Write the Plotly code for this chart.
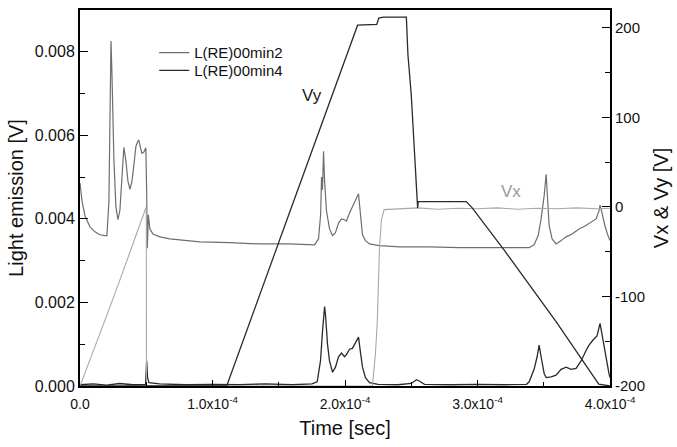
import plotly.graph_objects as go

# ---------------- data (time in microseconds) ----------------
T_L2_US = [0, 1.5, 3.8, 7.5, 11.3, 15.1, 18.8, 20.3, 21.8, 22.6, 23.4, 24.1, 25.6, 27.1, 28.6,
           30.1, 31.6, 33.1, 34.6, 36.2, 37.7, 39.2, 40.7, 42.2, 43.7, 44.4, 45.9, 46.7, 48.2,
           49.7, 50.3, 50.8, 51.6, 52.7, 55, 60.3, 67.8, 79.1, 90.4, 113, 135.6, 158.2, 177,
           180, 181.6, 182.3, 183, 183.8, 184.6, 186, 188.3, 190.6, 192.8, 195.1, 197.4, 199.6,
           201.1, 203.4, 205.6, 207.9, 209.4, 210.2, 211.7, 213.2, 215.4, 218.5, 226, 241,
           263.7, 286.3, 316.4, 339, 342.7, 345.8, 348, 350.3, 351.8, 352.6, 354.1, 356.3,
           359.3, 363.1, 366.9, 371.4, 376.6, 381.2, 385.7, 389.5, 391.7, 392.5, 394, 396.2,
           398.5, 400]
L_MIN2 = [0.00486, 0.00443, 0.00407, 0.00381, 0.00369, 0.00362, 0.00360, 0.00360, 0.0044,
          0.0073, 0.00826, 0.0075, 0.0054, 0.0043, 0.00398, 0.0042, 0.0051, 0.00571, 0.0054,
          0.0049, 0.00471, 0.0049, 0.0053, 0.00574, 0.00586, 0.00588, 0.00567, 0.00557,
          0.0056, 0.0057, 0.00467, 0.0033, 0.0041, 0.00376, 0.00364, 0.00357, 0.00352,
          0.00348, 0.00345, 0.00343, 0.0034, 0.0034, 0.00338, 0.00352, 0.0041, 0.0050,
          0.0047, 0.00562, 0.0049, 0.0042, 0.00376, 0.0036, 0.00367, 0.0039, 0.0040,
          0.00398, 0.00395, 0.00414, 0.00429, 0.00443, 0.00455, 0.0046, 0.0041, 0.00362,
          0.00348, 0.0034, 0.00336, 0.00333, 0.00333, 0.00331, 0.00331, 0.00331, 0.00338,
          0.0036, 0.0040, 0.00455, 0.00507, 0.00467, 0.00383, 0.00352, 0.0034, 0.00348,
          0.00357, 0.00364, 0.00376, 0.00383, 0.00393, 0.0040, 0.00419, 0.00433, 0.00414,
          0.00383, 0.0036, 0.00348]

T_L4_US = [0, 10, 20, 30, 40, 49.5, 50.3, 51, 52, 60, 80, 100, 120, 140, 160, 175, 179,
           181.5, 183, 184.6, 185.3, 186.8, 188.3, 190.6, 192.8, 195.1, 197.4, 199.6, 201.1,
           203.4, 205.6, 207.9, 210.2, 211.7, 213.2, 215.4, 218.5, 225, 240, 250, 252, 254,
           256, 260, 280, 300, 320, 337, 339, 342.7, 345, 346.5, 348, 350.3, 351.8, 355.6,
           359.3, 363.1, 366.9, 370.6, 374.4, 378.2, 381.9, 384.2, 387.2, 390.2, 392.5, 394.7,
           397, 399.2, 400]
L_MIN4 = [0.00003, 0.00005, 0.00002, 0.00006, 0.00003, 0.00004, 0.0006, 0.0002, 0.00008,
          0.00005, 0.00003, 0.00004, 0.00003, 0.00005, 0.00003, 0.00005, 0.0001, 0.0006,
          0.0013, 0.0019, 0.0017, 0.0010, 0.0006, 0.00033, 0.00045, 0.0007, 0.00079, 0.0007,
          0.00075, 0.00088, 0.0009, 0.00105, 0.00117, 0.0008, 0.00045, 0.0002, 0.00008,
          0.00004, 0.00003, 0.00006, 0.0001, 0.00015, 0.00012, 0.00004, 0.00003, 0.00004,
          0.00003, 0.00004, 0.0001, 0.0004, 0.0007, 0.00098, 0.0007, 0.0003, 0.0002, 0.00022,
          0.00026, 0.0004, 0.00045, 0.0004, 0.00042, 0.0006, 0.00085, 0.00098, 0.0011,
          0.0012, 0.0015, 0.0011, 0.0006, 0.0003, 0.0002]

T_VX_US = [0, 10, 20, 30, 40, 50, 50.2, 100, 220.7, 222.9, 224.4, 225.9, 227.4, 229.5, 240,
           255, 270, 285, 300, 315, 330, 345, 360, 375, 390, 400]
VX = [-200, -162, -122, -82, -41, 0, -200, -200, -200, -165, -128, -50, -15, -3, -2, -1,
      -2.5, -1.5, -2, -1, -2.5, -1.5, -2, -1, -2, -1.5]

T_VY_US = [0, 60, 110.7, 150.7, 188.3, 209.5, 224, 225.5, 229, 246.3, 247.5, 250, 252.5,
           254.3, 254.8, 255.3, 291.5, 296, 320, 359.3, 391.5, 400]
VY = [-200, -200, -200, -36.7, 116.7, 203, 204, 211, 212, 212, 170, 125, 60, 5, -1, 6, 6,
      -1, -48, -128, -198, -200]

X_TICK_VALS = [0, 1e-4, 2e-4, 3e-4, 4e-4]
X_TICK_TEXT = ["0.0", "1.0x10<sup>-4</sup>", "2.0x10<sup>-4</sup>", "3.0x10<sup>-4</sup>",
               "4.0x10<sup>-4</sup>"]
Y2_TICK_VALS = [-200, -100, 0, 100, 200]
Y2_TICK_TEXT = ["-200", "-100", "0", "100", "200"]

US = 1e-6

fig = go.Figure()
fig.add_trace(go.Scatter(x=[t * US for t in T_VX_US], y=VX, mode="lines", yaxis="y2",
                         line=dict(color="#a8a8a8", width=1.1), showlegend=False))
fig.add_trace(go.Scatter(x=[t * US for t in T_VY_US], y=VY, mode="lines", yaxis="y2",
                         line=dict(color="#2a2a2a", width=1.3), showlegend=False))
fig.add_trace(go.Scatter(x=[t * US for t in T_L2_US], y=L_MIN2, mode="lines",
                         name="L(RE)00min2", legend="legend",
                         line=dict(color="#6e6e6e", width=1.2)))
fig.add_trace(go.Scatter(x=[t * US for t in T_L4_US], y=L_MIN4, mode="lines",
                         name="L(RE)00min4", legend="legend2",
                         line=dict(color="#2a2a2a", width=1.3)))

fig.add_annotation(x=174.8 * US, y=124, yref="y2", text="Vy", showarrow=False,
                   font=dict(size=17, color="#222"))
fig.add_annotation(x=325.4 * US, y=17, yref="y2", text="Vx", showarrow=False,
                   font=dict(size=17, color="#9a9a9a"))

font_family = "Liberation Sans, Arial, sans-serif"
leg_common = dict(xanchor="left", yanchor="middle", bgcolor="rgba(0,0,0,0)",
                  font=dict(size=15))
fig.update_layout(
    width=677, height=447,
    margin=dict(l=80, r=66, t=8, b=61),
    plot_bgcolor="white", paper_bgcolor="white",
    font=dict(family=font_family, color="#111", size=16),
    legend=dict(x=0.140, y=0.886, **leg_common),
    legend2=dict(x=0.140, y=0.839, **leg_common),
    xaxis=dict(range=[0, 4e-4], tickvals=X_TICK_VALS, ticktext=X_TICK_TEXT,
               showline=True, linecolor="black", linewidth=2, mirror=True,
               ticks="inside", ticklen=6, tickcolor="black", showgrid=False, zeroline=False,
               minor=dict(ticks="inside", ticklen=4, dtick=5e-5, tickcolor="black"),
               ticklabelstandoff=4,
               title=dict(text="Time [sec]", font=dict(size=20), standoff=10),
               tickfont=dict(size=14)),
    yaxis=dict(range=[0, 0.009], tickvals=[0, 0.002, 0.004, 0.006, 0.008],
               tickformat=".3f", showline=True, linecolor="black", linewidth=2,
               ticks="inside", ticklen=8, tickcolor="black", showgrid=False, zeroline=False,
               minor=dict(ticks="inside", ticklen=5, dtick=0.001, tickcolor="black"),
               title=dict(text="Light emission [V]", font=dict(size=20), standoff=6)),
    yaxis2=dict(range=[-200, 220], overlaying="y", side="right",
                tickvals=Y2_TICK_VALS, ticktext=Y2_TICK_TEXT,
                showline=True, linecolor="black", linewidth=2,
                ticks="inside", ticklen=8, tickcolor="black", showgrid=False, zeroline=False,
                minor=dict(ticks="inside", ticklen=5, dtick=50, tickcolor="black"),
                tickfont=dict(size=15),
                title=dict(text="Vx &amp; Vy [V]", font=dict(size=20), standoff=10)),
)

fig.write_html("out.html", config={"displayModeBar": False},
               post_script="document.body.style.margin='0px';")
